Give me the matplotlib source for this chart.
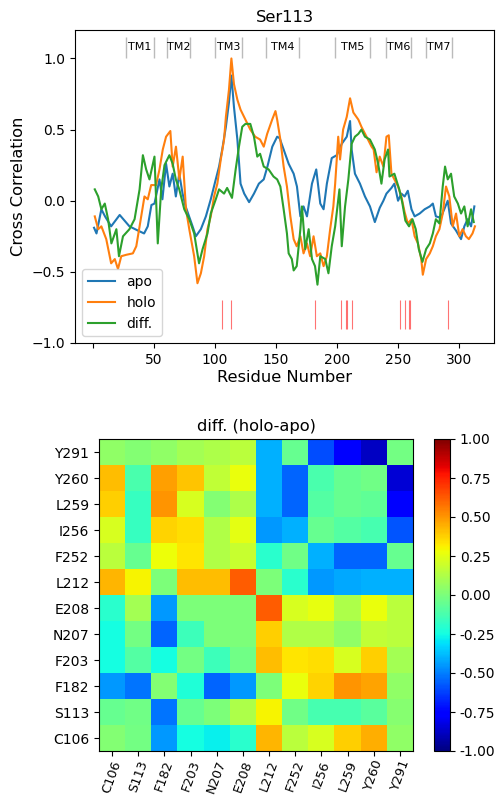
import numpy as np
import matplotlib
matplotlib.use("Agg")
import matplotlib.pyplot as plt

# cross correlation of Ser113 with every residue
apo_res = [1, 3, 7, 10, 15, 22, 30, 37, 42, 45, 48, 50.5, 54.6, 57, 60, 62.7, 65.4, 68, 70.8,
           73.5, 76, 81.7, 84.4, 88.5, 92.6, 96.6, 100.7, 103.4, 106, 109, 111.5, 113.5, 115.6,
           118.4, 121, 124, 128, 132, 136, 140, 143, 147, 151, 153, 156.3, 160.4, 164.5, 167.2,
           170, 172.6, 175.4, 179.5, 183, 186.3, 189, 191.7, 195.7, 199.8, 203.9, 208, 210.7,
           212, 214.7, 218.8, 222.9, 227, 231, 235, 238, 240.5, 244.6, 247, 250, 252.7, 255.4,
           258, 261, 263.6, 267.7, 271.8, 276, 278.5, 281, 285, 290.7, 293.4, 297.5, 301.6,
           304.3, 307, 309.8, 312.5]
apo_val = [-0.19, -0.23, -0.06, -0.11, -0.18, -0.10, -0.18, -0.21, -0.23, -0.18, -0.03, -0.02,
           0.15, 0.01, 0.26, 0.10, 0.19, 0.03, 0.19, 0.05, -0.04, -0.18, -0.25, -0.20, -0.11,
           0.01, 0.15, 0.24, 0.36, 0.52, 0.69, 0.88, 0.66, 0.43, 0.12, 0.05, -0.01, 0.05, 0.12,
           0.15, 0.24, 0.38, 0.45, 0.44, 0.36, 0.26, 0.19, 0.10, -0.11, -0.04, -0.11, 0.12, 0.22,
           -0.02, -0.06, 0.12, 0.30, 0.32, 0.40, 0.45, 0.56, 0.36, 0.19, 0.12, 0.03, -0.04,
           -0.15, -0.05, 0.0, 0.05, 0.09, 0.12, 0.0, 0.05, 0.03, 0.07, -0.06, -0.11, -0.09,
           -0.06, -0.04, -0.02, -0.11, -0.12, 0.0, -0.16, -0.21, -0.27, -0.18, -0.13, -0.18, -0.04]

holo_res = [1.6, 4.4, 7, 11, 15, 18, 20.6, 23.3, 27.4, 32.8, 35.6, 38.3, 42.3, 45, 47.8, 51.8,
            54.6, 57.3, 60, 63.5, 65.4, 68.1, 70.9, 73.6, 76.3, 79, 83, 85.7, 88.5, 91.2, 93.9,
            96.6, 99.3, 102, 104.8, 107.5, 109, 111.5, 113.5, 115.6, 118.4, 121, 125, 129, 133,
            137, 140, 142.8, 146.9, 149.6, 151, 153.6, 156.3, 159, 161.8, 164.5, 167, 170, 172.6,
            175.4, 178, 180.8, 183.5, 186.3, 189, 191.7, 194.4, 197, 198.5, 201, 202.5, 205, 208,
            210.7, 213.4, 217.5, 220, 224.2, 228.3, 230, 232.4, 235, 238, 240.5, 242.4, 244.6,
            247, 250, 252.7, 255.4, 258, 261, 263.6, 266.3, 269, 270.3, 273, 276, 278.5, 281,
            283.9, 286.6, 289.3, 292, 294.8, 297.5, 300.2, 302.9, 305.6, 308, 311, 313]
holo_val = [-0.11, -0.20, -0.18, -0.27, -0.44, -0.41, -0.48, -0.39, -0.38, -0.37, -0.32, -0.18,
            0.03, 0.01, 0.11, 0.11, 0.22, 0.36, 0.45, 0.49, 0.24, 0.38, 0.15, 0.31, -0.06, -0.20,
            -0.39, -0.58, -0.51, -0.39, -0.20, -0.11, 0.03, 0.12, 0.29, 0.43, 0.59, 0.78, 1.0,
            0.82, 0.71, 0.64, 0.57, 0.50, 0.45, 0.43, 0.38, 0.47, 0.57, 0.63, 0.57, 0.43, 0.24,
            0.10, -0.11, -0.27, -0.32, -0.25, -0.37, -0.30, -0.39, -0.25, -0.39, -0.37, -0.46,
            -0.39, -0.20, -0.04, 0.12, 0.45, 0.29, 0.50, 0.59, 0.72, 0.62, 0.57, 0.52, 0.45, 0.38,
            0.36, 0.20, 0.31, 0.24, 0.45, 0.46, 0.19, 0.15, 0.10, 0.03, -0.08, -0.16, -0.13,
            -0.25, -0.30, -0.41, -0.52, -0.41, -0.37, -0.32, -0.25, -0.20, -0.09, 0.10, 0.03,
            -0.18, -0.09, -0.25, -0.20, -0.25, -0.27, -0.23, -0.18]

diff_res = [1.6, 4.4, 7, 9.8, 12.5, 15.2, 19.3, 21.4, 24.7, 30, 34.2, 38.3, 41, 43.7, 46.4, 50.5,
            53.2, 56, 58.7, 62.7, 65.4, 68, 70.8, 74.9, 79, 83, 87, 89.9, 93.9, 96.6, 100.7,
            103.4, 107.5, 110, 114, 117, 119.7, 122.4, 125, 129, 132, 134.7, 137, 140, 144, 148,
            151, 153.6, 156.3, 159, 160.4, 163, 164.5, 167, 170, 171.3, 174, 176.8, 179.5, 182,
            184, 186.3, 190.4, 193, 195.7, 198.5, 202, 203.9, 206.6, 209.3, 212, 214.7, 217.5,
            220, 222.9, 227, 231, 233.7, 236.4, 239, 241.8, 243, 247, 251, 253.4, 256, 259,
            261.8, 264.5, 267, 270, 273, 276, 278.5, 281, 283.9, 286.6, 288.5, 290.7, 293.4, 296,
            299, 301.6, 304.3, 307, 309.8, 312]
diff_val = [0.08, 0.03, -0.06, -0.02, -0.13, -0.30, -0.20, -0.39, -0.25, -0.20, -0.13, 0.08,
            0.32, 0.22, 0.15, 0.31, -0.30, 0.08, 0.25, 0.32, 0.26, 0.15, 0.08, -0.06, -0.13,
            -0.23, -0.44, -0.34, -0.23, -0.09, 0.01, 0.08, 0.05, 0.09, 0.02, 0.22, 0.38, 0.52,
            0.54, 0.54, 0.45, 0.31, 0.33, 0.24, 0.22, 0.17, 0.15, 0.10, -0.06, -0.23, -0.37,
            -0.41, -0.49, -0.46, -0.20, -0.04, -0.34, -0.20, -0.41, -0.46, -0.59, -0.39, -0.41,
            -0.51, -0.32, -0.18, 0.08, -0.32, -0.04, 0.15, 0.40, 0.45, 0.47, 0.50, 0.45, 0.43,
            0.36, 0.26, 0.12, 0.29, 0.36, 0.17, 0.19, 0.08, -0.01, -0.14, -0.18, -0.13, -0.20,
            -0.34, -0.43, -0.34, -0.30, -0.23, -0.13, -0.16, 0.10, 0.24, 0.15, 0.19, 0.03, -0.02,
            -0.09, -0.04, -0.18, -0.06, -0.15]

tm_names = ['TM1', 'TM2', 'TM3', 'TM4', 'TM5', 'TM6', 'TM7']
tm_start = [27, 61, 100, 142, 198, 240, 273]
tm_end = [50, 80, 122, 169, 227, 261, 294]

# residues picked for the diff. matrix
sites = ['C106', 'S113', 'F182', 'F203', 'N207', 'E208', 'L212', 'F252', 'I256', 'L259', 'Y260', 'Y291']
site_res = [106, 113, 182, 203, 207, 208, 212, 252, 256, 259, 260, 291]

# diff. (holo-apo), rows from C106 (bottom) to Y291 (top)
diff_mat = np.array([
    [0.02, -0.02, -0.45, -0.25, -0.28, -0.20, 0.43, 0.15, 0.22, 0.38, 0.45, 0.05],   # C106
    [-0.05, -0.03, -0.52, -0.05, 0.0, 0.12, 0.30, -0.03, -0.13, -0.13, -0.08, 0.03],  # S113
    [-0.45, -0.52, 0.02, -0.22, -0.55, -0.45, 0.0, 0.27, 0.37, 0.50, 0.47, 0.05],    # F182
    [-0.25, -0.10, -0.25, -0.02, -0.15, -0.03, 0.42, 0.33, 0.35, 0.22, 0.38, 0.10],  # F203
    [-0.25, -0.02, -0.55, -0.15, 0.0, 0.0, 0.38, 0.13, 0.13, 0.05, 0.17, 0.15],      # N207
    [-0.20, 0.10, -0.45, 0.0, 0.0, 0.0, 0.62, 0.22, 0.26, 0.12, 0.27, 0.15],         # E208
    [0.43, 0.30, 0.0, 0.42, 0.42, 0.62, 0.0, -0.20, -0.45, -0.42, -0.40, -0.40],     # L212
    [0.15, -0.05, 0.28, 0.33, 0.13, 0.18, -0.20, -0.03, -0.40, -0.55, -0.55, -0.05], # F252
    [0.22, -0.17, 0.37, 0.35, 0.13, 0.25, -0.45, -0.40, -0.05, -0.10, -0.13, -0.58], # I256
    [0.38, -0.17, 0.50, 0.22, 0.02, 0.12, -0.40, -0.55, -0.10, -0.05, -0.07, -0.75], # L259
    [0.42, -0.12, 0.48, 0.40, 0.17, 0.27, -0.40, -0.55, -0.12, -0.05, -0.03, -0.85], # Y260
    [0.05, 0.02, 0.05, 0.10, 0.12, 0.15, -0.40, -0.05, -0.60, -0.75, -0.88, -0.02],  # Y291
])

fig = plt.figure(figsize=(4.96, 7.96), dpi=100)

# ---- top panel: correlation along the sequence
ax = fig.add_axes([75/496, 1 - 343/796, 419/496, 313/796])
ax.plot(apo_res, apo_val, label='apo')
ax.plot(holo_res, holo_val, label='holo')
ax.plot(diff_res, diff_val, label='diff.')

for name, s, e in zip(tm_names, tm_start, tm_end):
    ax.vlines([s, e], 1.0, 1.15, colors='#bbbbbb', linewidth=1)
    ax.text((s + e) / 2, 1.08, name, ha='center', va='center', fontsize=8)

ax.vlines(site_res, -0.9, -0.7, colors='red', linewidth=0.8, alpha=0.55)

ax.set_ylim(-1, 1.2)
ax.set_yticks([-1, -0.5, 0, 0.5, 1])
ax.set_xticks([0, 50, 100, 150, 200, 250, 300])
ax.set_xticklabels(['', '50', '100', '150', '200', '250', '300'])
ax.tick_params(labelsize=10)
ax.set_xlabel('Residue Number', fontsize=11.7, labelpad=2)
ax.set_ylabel('Cross Correlation', fontsize=11.7)
ax.set_title('Ser113', fontsize=11.7)
ax.legend(loc='lower left', fontsize=10)

# ---- bottom panel: diff. matrix
ax2 = fig.add_axes([99/496, 1 - 751/796, 314/496, 312/796])
im = ax2.imshow(diff_mat, cmap='jet', vmin=-1, vmax=1, origin='lower', aspect='auto')
ax2.set_xticks(range(len(sites)))
ax2.set_xticklabels(sites, rotation=70, fontsize=9.3)
ax2.tick_params(axis='x', pad=2)
ax2.set_yticks(range(len(sites)))
ax2.set_yticklabels(sites, fontsize=10)
ax2.set_title('diff. (holo-apo)', fontsize=11.7)

cax = fig.add_axes([434/496, 1 - 751/796, 16/496, 312/796])
cb = fig.colorbar(im, cax=cax, ticks=[-1, -0.75, -0.5, -0.25, 0, 0.25, 0.5, 0.75, 1])
cb.ax.tick_params(labelsize=10)
cb.ax.yaxis.set_major_formatter(matplotlib.ticker.FormatStrFormatter('%.2f'))

fig.savefig('out.png', dpi=100)
